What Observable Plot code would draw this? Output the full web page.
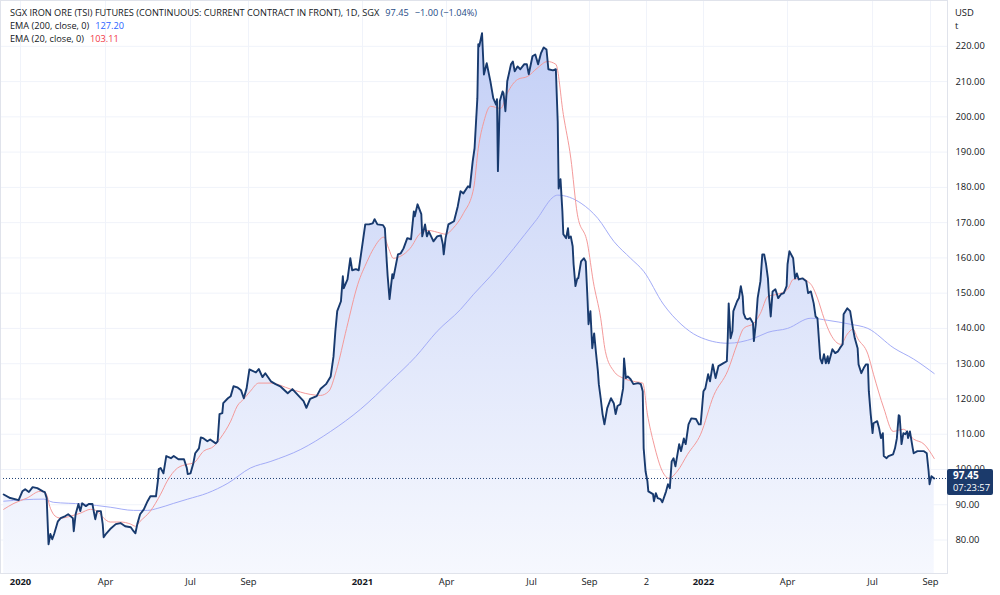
<!DOCTYPE html>
<html><head><meta charset="utf-8">
<script src="https://cdn.jsdelivr.net/npm/d3@7"></script>
<script src="https://cdn.jsdelivr.net/npm/@observablehq/plot@0.6"></script>
<style>
html,body{margin:0;padding:0;background:#fff;}
#wrap{position:relative;width:1000px;height:595px;overflow:hidden;font-family:"Open Sans",sans-serif;color:#131722;}
#legend{position:absolute;left:10px;top:6px;font-size:9.2px;line-height:13px;white-space:nowrap;}
#legend .v{margin-left:6px;}
#unit{position:absolute;left:955px;top:6px;font-size:9.4px;line-height:13px;}
</style></head>
<body>
<div id="wrap">
<div id="chart"></div>
<div id="legend">
<div>SGX IRON ORE (TSI) FUTURES (CONTINUOUS: CURRENT CONTRACT IN FRONT), 1D, SGX<span class="v" style="color:#1e4a85">97.45</span><span class="v" style="color:#1e4a85">−1.00 (−1.04%)</span></div>
<div>EMA (200, close, 0)<span class="v" style="color:#2962ff">127.20</span></div>
<div>EMA (20, close, 0)<span class="v" style="color:#f23645">103.11</span></div>
</div>
<div id="unit">USD<br>t</div>
</div>
<script>
// ---- data ----
const price = [
["2019-12-14",92.9],["2019-12-21",91.9],["2019-12-30",91.3],["2020-01-03",93.8],["2020-01-06",94.4],["2020-01-10",93.6],["2020-01-14",95.0],["2020-01-19",94.7],["2020-01-25",93.8],["2020-01-27",93.6],["2020-01-29",91.9],["2020-01-30",85.3],["2020-01-31",78.8],["2020-02-02",81.7],["2020-02-04",80.2],["2020-02-06",81.7],["2020-02-10",85.3],["2020-02-13",86.2],["2020-02-18",86.8],["2020-02-21",87.3],["2020-02-26",86.2],["2020-02-27",82.5],["2020-02-29",87.3],["2020-03-03",90.2],["2020-03-05",88.2],["2020-03-07",90.4],["2020-03-11",89.6],["2020-03-14",90.2],["2020-03-18",90.2],["2020-03-19",88.7],["2020-03-21",85.9],["2020-03-23",88.2],["2020-03-27",88.2],["2020-03-29",84.5],["2020-03-30",80.8],["2020-04-02",81.9],["2020-04-06",83.1],["2020-04-12",84.5],["2020-04-17",84.8],["2020-04-22",83.9],["2020-04-28",83.6],["2020-05-01",82.5],["2020-05-03",81.9],["2020-05-05",84.5],["2020-05-08",87.3],["2020-05-12",88.7],["2020-05-16",91.0],["2020-05-19",92.4],["2020-05-25",92.4],["2020-05-27",96.7],["2020-05-28",100.1],["2020-05-30",100.4],["2020-06-02",98.9],["2020-06-05",103.8],["2020-06-10",103.2],["2020-06-13",103.8],["2020-06-18",102.9],["2020-06-24",102.9],["2020-06-27",100.4],["2020-06-28",98.7],["2020-07-01",98.9],["2020-07-04",101.8],["2020-07-06",104.6],["2020-07-10",106.0],["2020-07-12",109.1],["2020-07-15",108.8],["2020-07-19",108.0],["2020-07-22",108.5],["2020-07-28",107.4],["2020-07-30",108.0],["2020-08-01",115.7],["2020-08-04",116.0],["2020-08-05",118.8],["2020-08-10",120.2],["2020-08-13",120.8],["2020-08-16",123.6],["2020-08-20",123.3],["2020-08-24",122.5],["2020-08-27",120.2],["2020-08-30",123.0],["2020-09-02",128.4],["2020-09-09",127.5],["2020-09-12",128.5],["2020-09-16",126.2],["2020-09-19",127.3],["2020-09-25",125.0],["2020-09-30",124.2],["2020-10-05",123.6],["2020-10-13",121.6],["2020-10-18",122.8],["2020-10-25",120.8],["2020-10-30",119.4],["2020-11-02",117.5],["2020-11-06",120.0],["2020-11-13",120.8],["2020-11-17",122.8],["2020-11-23",124.2],["2020-11-28",126.4],["2020-12-01",132.0],["2020-12-03",139.2],["2020-12-05",144.9],["2020-12-09",147.7],["2020-12-11",154.8],["2020-12-12",151.4],["2020-12-16",153.9],["2020-12-19",159.9],["2020-12-21",156.5],["2020-12-25",156.8],["2020-12-28",156.5],
["2021-01-01",163.9],["2021-01-04",169.5],["2021-01-08",169.5],["2021-01-12",169.8],["2021-01-14",171.0],["2021-01-17",169.5],["2021-01-23",169.3],["2021-01-25",168.4],["2021-01-27",159.0],["2021-01-28",154.8],["2021-01-30",148.3],["2021-02-02",155.4],["2021-02-03",154.2],["2021-02-08",161.0],["2021-02-11",161.3],["2021-02-14",162.7],["2021-02-18",165.6],["2021-02-22",165.3],["2021-02-25",173.2],["2021-02-26",171.8],["2021-03-01",175.2],["2021-03-05",172.4],["2021-03-06",166.1],["2021-03-09",169.5],["2021-03-11",166.1],["2021-03-13",167.5],["2021-03-18",164.7],["2021-03-22",166.1],["2021-03-26",166.4],["2021-03-28",163.9],["2021-03-29",161.0],["2021-03-31",165.6],["2021-04-03",169.5],["2021-04-09",170.4],["2021-04-13",174.6],["2021-04-16",178.9],["2021-04-19",178.3],["2021-04-24",180.3],["2021-04-26",180.0],["2021-04-29",187.4],["2021-05-01",191.1],["2021-05-04",205.3],["2021-05-05",220.6],["2021-05-06",220.0],["2021-05-09",223.7],["2021-05-11",212.0],["2021-05-14",215.2],["2021-05-18",210.0],["2021-05-21",205.3],["2021-05-24",203.5],["2021-05-25",205.0],["2021-05-26",184.6],["2021-05-28",204.4],["2021-05-31",207.2],["2021-06-01",206.7],["2021-06-03",201.6],["2021-06-05",210.1],["2021-06-09",214.9],["2021-06-11",215.7],["2021-06-13",212.9],["2021-06-16",214.3],["2021-06-19",213.5],["2021-06-23",214.9],["2021-06-26",214.9],["2021-06-28",212.1],["2021-07-02",217.2],["2021-07-05",217.7],["2021-07-08",214.9],["2021-07-11",218.0],["2021-07-14",219.7],["2021-07-17",219.1],["2021-07-19",213.5],["2021-07-24",213.2],["2021-07-27",213.5],["2021-07-29",198.7],["2021-07-30",179.7],["2021-08-01",182.3],["2021-08-03",173.2],["2021-08-04",166.7],["2021-08-07",165.6],["2021-08-09",168.4],["2021-08-10",165.6],["2021-08-12",166.1],["2021-08-14",163.3],["2021-08-15",158.2],["2021-08-17",152.0],["2021-08-19",154.2],["2021-08-20",154.2],["2021-08-23",159.0],["2021-08-26",159.9],["2021-08-28",159.0],["2021-08-30",147.7],["2021-08-31",141.2],["2021-09-02",144.9],["2021-09-04",134.4],["2021-09-06",138.6],["2021-09-08",133.0],["2021-09-10",127.9],["2021-09-11",124.2],["2021-09-13",120.2],["2021-09-15",115.7],["2021-09-17",112.8],["2021-09-20",117.4],["2021-09-24",120.2],["2021-09-27",118.8],["2021-09-29",115.7],["2021-10-01",118.0],["2021-10-04",118.5],["2021-10-07",123.0],["2021-10-08",131.5],["2021-10-10",125.9],["2021-10-12",126.4],["2021-10-15",125.6],["2021-10-18",124.2],["2021-10-23",124.5],["2021-10-26",124.2],["2021-10-28",122.2],["2021-10-29",106.0],["2021-10-31",99.5],["2021-11-02",96.7],["2021-11-03",93.8],["2021-11-08",93.0],["2021-11-09",91.0],["2021-11-11",93.3],["2021-11-13",91.9],["2021-11-16",91.6],["2021-11-18",90.7],["2021-11-22",93.8],["2021-11-24",95.8],["2021-11-26",94.7],["2021-11-28",102.3],["2021-11-30",103.2],["2021-12-02",100.9],["2021-12-06",107.2],["2021-12-08",105.2],["2021-12-11",108.8],["2021-12-13",107.2],["2021-12-16",112.8],["2021-12-19",114.5],["2021-12-24",114.3],["2021-12-27",112.8],["2021-12-29",112.8],
["2022-01-01",122.2],["2022-01-03",123.0],["2022-01-06",127.0],["2022-01-08",125.0],["2022-01-11",129.8],["2022-01-14",125.9],["2022-01-17",129.3],["2022-01-22",130.1],["2022-01-26",130.7],["2022-01-27",137.2],["2022-01-28",147.1],["2022-01-30",137.2],["2022-02-01",139.2],["2022-02-02",144.9],["2022-02-06",147.7],["2022-02-08",148.6],["2022-02-10",152.0],["2022-02-12",149.1],["2022-02-13",144.3],["2022-02-15",142.9],["2022-02-17",142.6],["2022-02-20",142.9],["2022-02-23",141.5],["2022-02-24",136.4],["2022-02-26",141.2],["2022-02-28",148.6],["2022-03-03",153.4],["2022-03-05",161.0],["2022-03-07",161.0],["2022-03-09",158.2],["2022-03-11",154.2],["2022-03-12",149.7],["2022-03-14",143.4],["2022-03-16",150.5],["2022-03-19",151.1],["2022-03-22",148.6],["2022-03-25",149.7],["2022-03-28",150.0],["2022-03-31",152.0],["2022-04-01",158.2],["2022-04-03",161.9],["2022-04-07",159.9],["2022-04-09",154.2],["2022-04-11",155.6],["2022-04-13",153.9],["2022-04-17",154.2],["2022-04-21",153.4],["2022-04-23",150.0],["2022-04-26",150.5],["2022-04-29",147.1],["2022-05-01",143.4],["2022-05-03",142.9],["2022-05-06",131.5],["2022-05-08",130.1],["2022-05-10",132.7],["2022-05-12",130.1],["2022-05-14",132.1],["2022-05-15",130.1],["2022-05-19",134.1],["2022-05-22",133.0],["2022-05-25",133.5],["2022-05-27",134.4],["2022-05-30",135.5],["2022-05-31",144.0],["2022-06-04",145.7],["2022-06-07",144.9],["2022-06-10",140.0],["2022-06-12",137.2],["2022-06-15",134.4],["2022-06-16",129.8],["2022-06-19",127.3],["2022-06-22",129.0],["2022-06-24",129.8],["2022-06-26",129.8],["2022-06-27",122.2],["2022-06-29",115.7],["2022-07-01",110.3],["2022-07-02",113.1],["2022-07-06",113.7],["2022-07-08",111.7],["2022-07-10",108.9],["2022-07-12",110.3],["2022-07-13",103.8],["2022-07-16",103.2],["2022-07-18",103.8],["2022-07-23",104.3],["2022-07-25",106.0],["2022-07-27",108.8],["2022-07-29",115.4],["2022-07-30",115.1],["2022-08-01",107.2],["2022-08-03",110.3],["2022-08-05",110.0],["2022-08-07",110.8],["2022-08-08",108.9],["2022-08-10",110.8],["2022-08-13",106.0],["2022-08-14",104.6],["2022-08-18",105.2],["2022-08-22",105.2],["2022-08-25",105.2],["2022-08-28",104.6],["2022-08-30",99.5],["2022-08-31",95.8],["2022-09-02",98.1],["2022-09-05",97.45]
];
const ema20 = [
["2019-12-14",88.7],["2019-12-25",90.4],["2020-01-08",91.9],["2020-01-22",93.8],["2020-01-28",93.3],["2020-02-02",89.0],["2020-02-07",86.8],["2020-02-13",86.2],["2020-02-24",86.8],["2020-03-05",87.6],["2020-03-16",88.7],["2020-03-23",88.2],["2020-03-30",86.2],["2020-04-06",85.1],["2020-04-17",85.1],["2020-04-28",84.5],["2020-05-03",83.9],["2020-05-08",85.3],["2020-05-19",88.2],["2020-05-30",93.0],["2020-06-06",96.7],["2020-06-17",100.4],["2020-06-28",101.5],["2020-07-04",101.8],["2020-07-15",105.2],["2020-07-26",106.6],["2020-08-02",108.9],["2020-08-13",113.7],["2020-08-20",118.0],["2020-08-27",120.0],["2020-09-03",122.2],["2020-09-12",124.5],["2020-09-25",124.5],["2020-10-16",122.8],["2020-11-06",121.3],["2020-11-17",121.0],["2020-11-26",122.2],["2020-12-04",128.0],["2020-12-15",140.0],["2020-12-27",152.5],["2021-01-06",159.0],["2021-01-13",162.7],["2021-01-24",165.9],["2021-01-29",162.7],["2021-02-03",159.9],["2021-02-11",160.5],["2021-02-21",162.7],["2021-03-04",167.0],["2021-03-12",167.8],["2021-03-26",167.0],["2021-03-31",166.7],["2021-04-08",168.4],["2021-04-19",172.6],["2021-04-30",179.7],["2021-05-05",191.1],["2021-05-11",198.7],["2021-05-18",203.0],["2021-05-29",202.4],["2021-06-05",206.7],["2021-06-16",210.6],["2021-06-27",211.5],["2021-07-07",213.8],["2021-07-18",215.7],["2021-07-27",214.9],["2021-08-04",200.7],["2021-08-12",188.3],["2021-08-19",172.4],["2021-08-30",163.9],["2021-09-05",153.4],["2021-09-13",142.9],["2021-09-18",133.5],["2021-09-27",127.9],["2021-10-07",125.9],["2021-10-18",125.0],["2021-10-28",124.5],["2021-11-02",115.7],["2021-11-09",107.2],["2021-11-18",99.5],["2021-11-25",97.5],["2021-12-04",99.5],["2021-12-15",104.3],["2021-12-29",110.0],["2022-01-12",121.0],["2022-01-27",128.0],["2022-02-06",135.5],["2022-02-13",140.0],["2022-02-24",141.5],["2022-03-03",144.3],["2022-03-11",149.1],["2022-03-21",149.7],["2022-04-01",151.1],["2022-04-07",153.9],["2022-04-15",154.2],["2022-04-26",152.5],["2022-05-03",148.6],["2022-05-10",142.9],["2022-05-17",138.4],["2022-05-28",135.5],["2022-06-04",138.4],["2022-06-10",139.8],["2022-06-15",137.2],["2022-06-26",132.7],["2022-07-02",127.0],["2022-07-13",117.4],["2022-07-23",110.8],["2022-08-03",111.4],["2022-08-14",108.6],["2022-08-25",107.2],["2022-09-05",103.11]
];
const ema200 = [
["2019-12-14",91.0],["2020-01-26",91.6],["2020-02-05",90.7],["2020-03-08",90.2],["2020-04-06",89.3],["2020-05-01",88.4],["2020-05-16",88.4],["2020-05-27",89.0],["2020-06-13",90.4],["2020-06-28",91.6],["2020-07-19",93.3],["2020-08-10",96.1],["2020-09-03",100.4],["2020-09-25",102.3],["2020-10-27",105.7],["2020-11-28",110.8],["2020-12-30",117.1],["2021-01-31",125.0],["2021-02-27",132.0],["2021-03-22",139.2],["2021-04-16",145.4],["2021-04-30",149.7],["2021-05-18",154.8],["2021-06-12",162.7],["2021-07-05",170.4],["2021-07-29",177.8],["2021-08-23",175.5],["2021-09-10",171.2],["2021-09-27",164.7],["2021-10-15",159.9],["2021-10-29",156.2],["2021-11-19",146.9],["2021-12-08",141.2],["2021-12-26",137.8],["2022-01-27",135.8],["2022-02-24",137.2],["2022-03-11",138.9],["2022-04-01",140.0],["2022-04-26",142.9],["2022-05-14",142.3],["2022-06-07",141.2],["2022-06-26",140.0],["2022-07-24",134.4],["2022-08-14",131.3],["2022-09-05",127.2]
];
const yTicks = [80,90,100,110,120,130,140,150,160,170,180,190,200,210,220];
const yearTicks = ["2020-01-01","2021-01-01","2022-01-01"];
const yearLabels = ["2020","2021","2022"];
const monthTicks = ["2020-04-01","2020-07-01","2020-09-01","2021-04-01","2021-07-01","2021-09-01","2021-11-01","2022-04-01","2022-07-01","2022-09-01"];
const monthLabels = ["Apr","Jul","Sep","Apr","Jul","Sep","2","Apr","Jul","Sep"];
const lastPrice = 97.45;
const lastTime = "07:23:57";
const xDomain = ["2019-12-10T14:00:00Z","2022-09-19T05:00:00Z"];
const yDomain = [70.5, 233.0];

// ---- build ----
const toRows = a => a.map(([d,v]) => ({date:new Date(d+"T00:00:00Z"), value:v}));
const P = toRows(price), E20 = toRows(ema20), E200 = toRows(ema200);
const yT = yearTicks.map(d=>new Date(d+"T00:00:00Z"));
const mT = monthTicks.map(d=>new Date(d+"T00:00:00Z"));
const allT = yT.concat(mT);
const labelOf = new Map();
yT.forEach((d,i)=>labelOf.set(+d, yearLabels[i]));
mT.forEach((d,i)=>labelOf.set(+d, monthLabels[i]));

const chart = Plot.plot({
  width:1000, height:595,
  marginLeft:0, marginRight:53, marginTop:0, marginBottom:22,
  x:{type:"utc", domain:xDomain.map(d=>new Date(d))},
  y:{domain:yDomain},
  style:{fontFamily:"'Open Sans',sans-serif", fontSize:"9.4px", color:"#131722", background:"transparent", overflow:"visible"},
  marks:[
    Plot.gridY(yTicks,{stroke:"#f0f3fa",strokeOpacity:1}),
    Plot.gridX(allT,{stroke:"#f0f3fa",strokeOpacity:1}),
    Plot.areaY(P,{x:"date", y1:yDomain[0], y2:"value", fill:"url(#areaGrad)", curve:"linear"}),
    Plot.ruleY([lastPrice],{stroke:"#1d3f73", strokeWidth:1, strokeDasharray:"1,2"}),
    Plot.lineY(E200,{x:"date", y:"value", stroke:"#a3acf7", strokeWidth:1, curve:"monotone-x"}),
    Plot.lineY(E20,{x:"date", y:"value", stroke:"#f49a9a", strokeWidth:1, curve:"monotone-x"}),
    Plot.lineY(P,{x:"date", y:"value", stroke:"#183a6e", strokeWidth:1.9, strokeLinejoin:"round"}),
    Plot.frame({stroke:"#e0e3eb"}),
    Plot.axisY(yTicks,{anchor:"right", tickSize:0, tickPadding:8, tickFormat:d=>d.toFixed(2), label:null, fill:"#131722"}),
    Plot.axisX(yT,{anchor:"bottom", tickSize:0, tickPadding:5, tickFormat:d=>labelOf.get(+d), fontWeight:"bold", label:null, fill:"#131722"}),
    Plot.axisX(mT,{anchor:"bottom", tickSize:0, tickPadding:5, tickFormat:d=>labelOf.get(+d), label:null, fill:"#131722"})
  ]
});

// gradient defs
const svg = d3.select(chart);
const defs = svg.insert("defs",":first-child");
const g = defs.append("linearGradient").attr("id","areaGrad").attr("gradientUnits","userSpaceOnUse")
  .attr("x1",0).attr("x2",0).attr("y1",30).attr("y2",573);
g.append("stop").attr("offset","0").attr("stop-color","#c3cff6");
g.append("stop").attr("offset","1").attr("stop-color","#f6f8fe");

// last price badge on the price scale
const ys = chart.scale("y");
const yy = ys.apply(lastPrice);
const xr = chart.scale("x").range[1];
const badge = svg.append("g").attr("text-anchor","start").attr("font-family","'Open Sans',sans-serif");
badge.append("rect").attr("x",xr).attr("y",yy-9).attr("width",46).attr("height",26).attr("rx",2).attr("fill","#1b3a6b");
badge.append("text").attr("x",xr+6).attr("y",yy+1.5).attr("fill","#fff").attr("font-size","10px").attr("font-weight","bold").text(lastPrice.toFixed(2));
badge.append("text").attr("x",xr+6).attr("y",yy+13.5).attr("fill","#fff").attr("font-size","9.4px").text(lastTime);

document.getElementById("chart").appendChild(chart);
</script>
</body></html>
